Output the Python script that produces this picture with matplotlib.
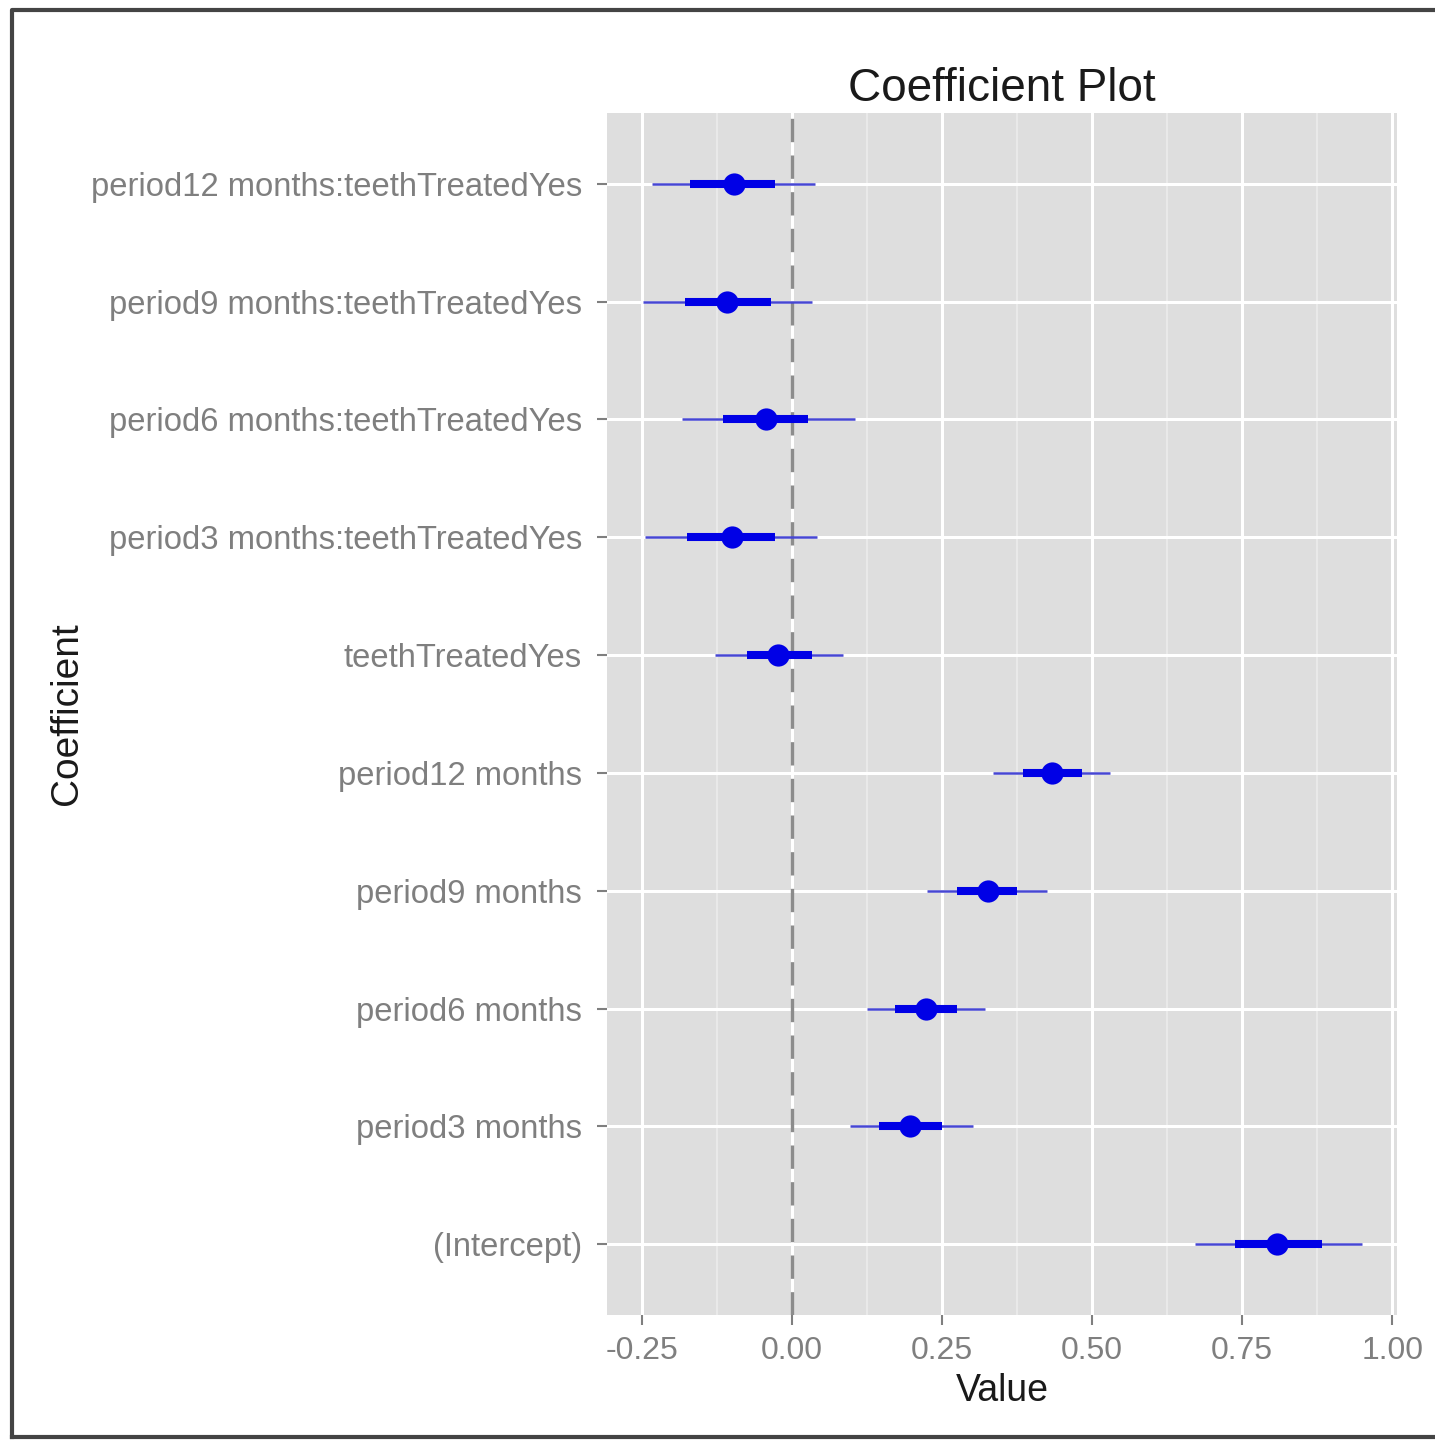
import matplotlib.pyplot as plt
from matplotlib.lines import Line2D

plt.rcParams['font.family'] = ['Liberation Sans', 'DejaVu Sans']

# coefficients, bottom to top
coefs = ["(Intercept)", "period3 months", "period6 months", "period9 months",
         "period12 months", "teethTreatedYes",
         "period3 months:teethTreatedYes", "period6 months:teethTreatedYes",
         "period9 months:teethTreatedYes", "period12 months:teethTreatedYes"]
estimate = [0.808, 0.197, 0.223, 0.327, 0.433, -0.023, -0.100, -0.043, -0.108, -0.097]
# inner interval (1 s.e.)
inner_lo = [0.738, 0.145, 0.172, 0.275, 0.385, -0.075, -0.175, -0.115, -0.178, -0.170]
inner_hi = [0.883, 0.250, 0.275, 0.375, 0.483, 0.033, -0.028, 0.027, -0.035, -0.028]
# outer interval (2 s.e.)
outer_lo = [0.672, 0.097, 0.125, 0.225, 0.335, -0.128, -0.245, -0.183, -0.248, -0.233]
outer_hi = [0.950, 0.302, 0.322, 0.425, 0.530, 0.085, 0.042, 0.105, 0.033, 0.038]

xticks = [-0.25, 0.0, 0.25, 0.5, 0.75, 1.0]
xminor = [-0.125, 0.125, 0.375, 0.625, 0.875]

fig = plt.figure(figsize=(14.35, 14.4), dpi=100)
ax = fig.add_axes([0.423, 0.0868, 0.5505, 0.8347])
ax.set_facecolor('#DEDEDE')

y = list(range(len(coefs)))

# grid
for v in xminor:
    ax.axvline(v, color='#EDEDED', lw=1.1, zorder=0)
for v in xticks:
    ax.axvline(v, color='white', lw=2.2, zorder=0)
for yy in y:
    ax.axhline(yy, color='white', lw=2.2, zorder=0)

ax.axvline(0, color='#8C8C8C', lw=2.4, ls=(0, (7, 4)), zorder=1)

ax.hlines(y, outer_lo, outer_hi, color='#4646D2', lw=1.8, zorder=2)
ax.hlines(y, inner_lo, inner_hi, color='#0000E6', lw=5.8, zorder=3)
ax.plot(estimate, y, 'o', color='#0000E6', ms=16, mec='none', zorder=4)

ax.set_xlim(-0.308, 1.008)
ax.set_ylim(-0.6, len(coefs) - 0.4)
ax.set_xticks(xticks)
ax.set_xticklabels(["-0.25", "0.00", "0.25", "0.50", "0.75", "1.00"])
ax.set_yticks(y)
ax.set_yticklabels(coefs)
ax.tick_params(axis='both', colors='#7F7F7F', labelcolor='#7F7F7F',
               labelsize=23, length=7, width=1.5)
ax.tick_params(axis='y', pad=11, labelsize=23.6)
ax.tick_params(axis='x', pad=8)
for s in ax.spines.values():
    s.set_visible(False)

ax.set_title("Coefficient Plot", fontsize=33, color='#1A1A1A', pad=9)
ax.set_xlabel("Value", fontsize=27, color='#1A1A1A', labelpad=5)
ax.set_ylabel("Coefficient", fontsize=28, color='#1A1A1A', labelpad=4)

# frame around the picture
fig.add_artist(Line2D([12/1435, 12/1435, 1.0], [1-1437/1440, 1-10/1440, 1-10/1440],
                      transform=fig.transFigure, color='#444444', lw=3))
fig.add_artist(Line2D([12/1435, 1.0], [1-1437/1440, 1-1437/1440],
                      transform=fig.transFigure, color='#444444', lw=3))

plt.savefig("out.png", dpi=100)
